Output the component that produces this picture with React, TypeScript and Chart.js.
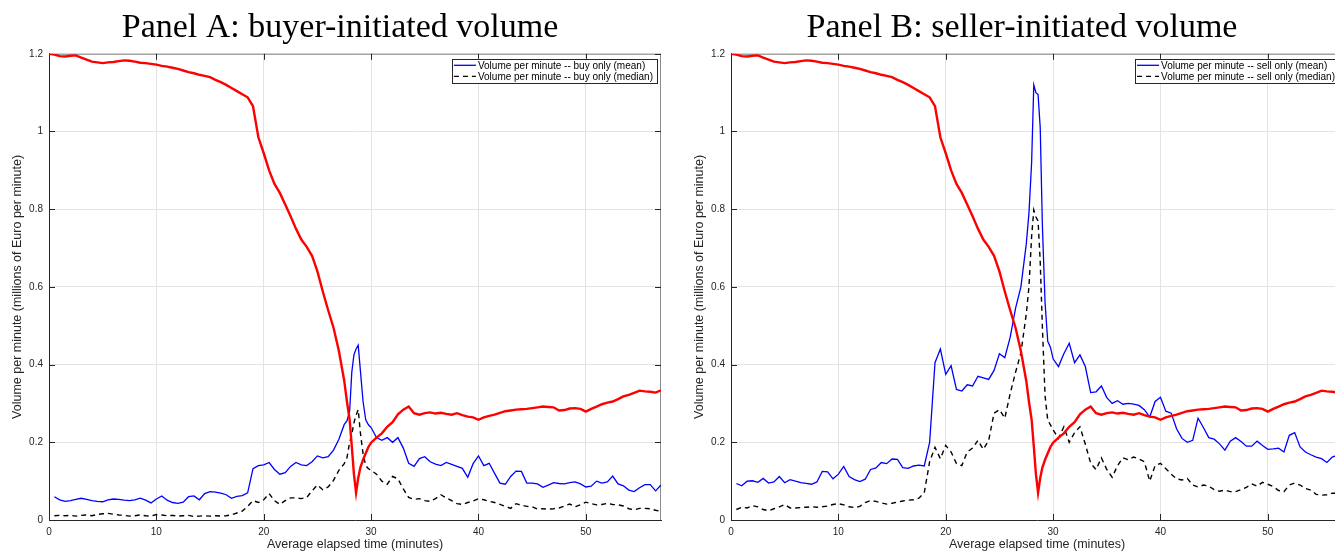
import React, { useEffect, useRef } from "react";
import Chart from "chart.js/auto";

// sample times (minutes)
const times = [
  0.5, 1, 1.5, 2, 2.5, 3, 3.5, 4, 4.5, 5,
  5.5, 6, 6.5, 7, 7.5, 8, 8.5, 9, 9.5, 10,
  10.5, 11, 11.5, 12, 12.5, 13, 13.5, 14, 14.5, 15,
  15.5, 16, 16.5, 17, 17.5, 18, 18.5, 19, 19.5, 20,
  20.5, 21, 21.5, 22, 22.5, 23, 23.5, 24, 24.5, 25,
  25.5, 26, 26.5, 27, 27.5, 27.75, 28, 28.2, 28.4, 28.6,
  28.8, 29, 29.25, 29.5, 29.75, 30, 30.5, 31, 31.5, 32,
  32.5, 33, 33.5, 34, 34.5, 35, 35.5, 36, 36.5, 37,
  37.5, 38, 38.5, 39, 39.5, 40, 40.5, 41, 41.5, 42,
  42.5, 43, 43.5, 44, 44.5, 45, 45.5, 46, 46.5, 47,
  47.5, 48, 48.5, 49, 49.5, 50, 50.5, 51, 51.5, 52,
  52.5, 53, 53.5, 54, 54.5, 55, 55.5, 56, 56.5, 57,
];
const priceTimes = [0, ...times];

const price = [
  1.2,
  1.198, 1.194, 1.193, 1.195, 1.196, 1.19, 1.185, 1.18, 1.178, 1.176,
  1.178, 1.179, 1.181, 1.183, 1.182, 1.18, 1.177, 1.176, 1.174, 1.172,
  1.169, 1.167, 1.164, 1.161, 1.157, 1.153, 1.15, 1.146, 1.143, 1.14,
  1.133, 1.127, 1.12, 1.112, 1.104, 1.096, 1.088, 1.065, 0.985, 0.944,
  0.9, 0.865, 0.842, 0.812, 0.782, 0.75, 0.722, 0.703, 0.68, 0.64,
  0.588, 0.54, 0.495, 0.435, 0.358, 0.305, 0.258, 0.19, 0.118, 0.07,
  0.108, 0.135, 0.155, 0.172, 0.188, 0.199, 0.212, 0.223, 0.24, 0.252,
  0.272, 0.284, 0.292, 0.275, 0.271, 0.275, 0.277, 0.274, 0.276, 0.273,
  0.271, 0.275, 0.27, 0.266, 0.264, 0.258, 0.264, 0.268, 0.271, 0.276,
  0.28, 0.282, 0.284, 0.285, 0.286, 0.288, 0.29, 0.292, 0.291, 0.29,
  0.282, 0.283, 0.287, 0.288, 0.286, 0.279, 0.286, 0.292, 0.298, 0.302,
  0.305, 0.311, 0.318, 0.322, 0.327, 0.333, 0.331, 0.33, 0.328, 0.334,
];

const buyMean = [
  0.06, 0.052, 0.048, 0.05, 0.053, 0.056, 0.053, 0.05, 0.048, 0.047,
  0.052, 0.054, 0.053, 0.051, 0.05, 0.052, 0.056, 0.051, 0.044, 0.054,
  0.062, 0.051, 0.045, 0.043, 0.046, 0.06, 0.062, 0.052, 0.068, 0.073,
  0.072, 0.069, 0.065, 0.056, 0.061, 0.063, 0.07, 0.132, 0.14, 0.142,
  0.148, 0.13, 0.118, 0.122, 0.138, 0.148, 0.142, 0.14, 0.15, 0.165,
  0.16, 0.163, 0.18, 0.208, 0.246, 0.255, 0.28, 0.38, 0.425, 0.44,
  0.45, 0.385, 0.305, 0.258, 0.245, 0.238, 0.212, 0.205, 0.212, 0.2,
  0.212, 0.185, 0.146, 0.138, 0.158, 0.163, 0.15, 0.144, 0.14, 0.148,
  0.143, 0.138, 0.133, 0.11, 0.145, 0.165, 0.14, 0.146, 0.12, 0.095,
  0.092, 0.112, 0.126, 0.125, 0.095, 0.095, 0.093, 0.084, 0.09, 0.096,
  0.094, 0.093, 0.096, 0.098, 0.093, 0.085, 0.087, 0.1, 0.095, 0.098,
  0.113, 0.093, 0.088, 0.077, 0.073, 0.083, 0.091, 0.091, 0.075, 0.09,
];

const buyMedian = [
  0.011, 0.012, 0.011, 0.012, 0.01, 0.012, 0.013, 0.011, 0.014, 0.016,
  0.017, 0.015, 0.013, 0.012, 0.01, 0.011, 0.013, 0.011, 0.01, 0.014,
  0.013, 0.011, 0.012, 0.01, 0.011, 0.012, 0.009, 0.01, 0.011, 0.01,
  0.011, 0.01, 0.011, 0.013, 0.018, 0.023, 0.035, 0.05, 0.045, 0.052,
  0.068, 0.05, 0.04, 0.05, 0.057, 0.057, 0.055, 0.058, 0.075, 0.09,
  0.078, 0.085, 0.102, 0.128, 0.145, 0.16, 0.2, 0.22, 0.25, 0.27,
  0.284, 0.225, 0.17, 0.14, 0.132, 0.128, 0.118, 0.1, 0.092, 0.112,
  0.106, 0.08, 0.058, 0.053, 0.055, 0.05, 0.048, 0.055, 0.065, 0.057,
  0.05, 0.042, 0.04, 0.045, 0.049, 0.055, 0.052, 0.048, 0.045, 0.04,
  0.035, 0.03, 0.042, 0.038, 0.035, 0.034, 0.028, 0.029, 0.028, 0.029,
  0.031, 0.036, 0.041, 0.034, 0.039, 0.046, 0.042, 0.039, 0.04, 0.043,
  0.04, 0.039, 0.036, 0.029, 0.026, 0.03, 0.03, 0.029, 0.025, 0.022,
];

const sellMean = [
  0.094, 0.088, 0.1, 0.101, 0.097, 0.107, 0.095, 0.098, 0.112, 0.096,
  0.104, 0.1, 0.096, 0.094, 0.092, 0.098, 0.125, 0.124, 0.106, 0.118,
  0.138, 0.112, 0.104, 0.099, 0.105, 0.13, 0.134, 0.148, 0.145, 0.157,
  0.156, 0.135, 0.133, 0.139, 0.141, 0.139, 0.2, 0.405, 0.44, 0.375,
  0.397, 0.336, 0.332, 0.348, 0.345, 0.37, 0.366, 0.362, 0.385, 0.428,
  0.418, 0.47, 0.545, 0.6, 0.71, 0.79, 0.92, 1.12, 1.1, 1.095,
  1.01, 0.76, 0.56, 0.46, 0.445, 0.415, 0.395, 0.428, 0.455, 0.405,
  0.425, 0.395, 0.328, 0.33, 0.345, 0.315, 0.3, 0.307, 0.298, 0.3,
  0.298, 0.295, 0.284, 0.265, 0.305, 0.316, 0.28, 0.275, 0.235, 0.21,
  0.2, 0.205, 0.262, 0.238, 0.212, 0.208, 0.196, 0.18, 0.203, 0.212,
  0.202, 0.19, 0.19, 0.203, 0.192, 0.182, 0.183, 0.185, 0.175, 0.218,
  0.225, 0.188, 0.175, 0.168, 0.162, 0.158, 0.148, 0.162, 0.167, 0.165,
];

const sellMedian = [
  0.027, 0.033, 0.031, 0.037, 0.034, 0.027, 0.024, 0.029, 0.034, 0.04,
  0.031, 0.031, 0.032, 0.033, 0.034, 0.033, 0.034, 0.036, 0.04, 0.042,
  0.039, 0.034, 0.032, 0.035, 0.045, 0.05, 0.048, 0.044, 0.041, 0.043,
  0.046, 0.049, 0.051, 0.052, 0.056, 0.07, 0.15, 0.187, 0.158, 0.192,
  0.175, 0.145, 0.14, 0.175, 0.185, 0.205, 0.182, 0.205, 0.275, 0.284,
  0.262, 0.325, 0.38, 0.43, 0.53, 0.6, 0.73, 0.798, 0.78, 0.77,
  0.665, 0.498, 0.32, 0.257, 0.245, 0.232, 0.21, 0.24, 0.2, 0.225,
  0.24, 0.195, 0.146, 0.13, 0.16, 0.13, 0.11, 0.14, 0.16, 0.155,
  0.162, 0.157, 0.15, 0.1, 0.14, 0.146, 0.132, 0.118, 0.106, 0.103,
  0.107, 0.09, 0.085, 0.09, 0.087, 0.078, 0.074, 0.077, 0.073, 0.073,
  0.078, 0.084, 0.093, 0.087, 0.097, 0.092, 0.086, 0.076, 0.073, 0.09,
  0.095, 0.09, 0.081, 0.077, 0.066, 0.064, 0.065, 0.069, 0.069, 0.07,
];

const xTicks = [0, 10, 20, 30, 40, 50];
const yTicks = [0, 0.2, 0.4, 0.6, 0.8, 1, 1.2];
const X_MAX = 57;
const Y_MAX = 1.2;

const SANS = "'Liberation Sans', Arial, Helvetica, sans-serif";
const SERIF = "'Liberation Serif', 'Times New Roman', serif";

const CANVAS_W = 680;
const CANVAS_H = 552;

const frameTicks = {
  id: "frameTicks",
  beforeDatasetsDraw(chart: any) {
    const { ctx, chartArea: a, scales } = chart;
    ctx.save();
    ctx.lineWidth = 1;
    ctx.strokeStyle = "#8c8c8c";
    ctx.beginPath();
    ctx.moveTo(a.left, a.top + 0.5);
    ctx.lineTo(a.right, a.top + 0.5);
    ctx.moveTo(a.right - 0.5, a.top);
    ctx.lineTo(a.right - 0.5, a.bottom);
    ctx.stroke();
    ctx.strokeStyle = "#262626";
    ctx.beginPath();
    const L = 6;
    xTicks.forEach((v) => {
      const px = Math.round(scales.x.getPixelForValue(v)) + 0.5;
      ctx.moveTo(px, a.bottom);
      ctx.lineTo(px, a.bottom - L);
      ctx.moveTo(px, a.top);
      ctx.lineTo(px, a.top + L);
    });
    yTicks.forEach((v) => {
      const py = Math.round(scales.y.getPixelForValue(v)) + 0.5;
      ctx.moveTo(a.left, py);
      ctx.lineTo(a.left + L, py);
      ctx.moveTo(a.right, py);
      ctx.lineTo(a.right - L, py);
    });
    ctx.stroke();
    ctx.restore();
  },
};

const boxLegend = {
  id: "boxLegend",
  afterDatasetsDraw(chart: any) {
    const { ctx, chartArea: a } = chart;
    const items = chart.data.datasets.filter((d: any) => d.inLegend);
    ctx.save();
    ctx.font = `10px ${SANS}`;
    const tw = Math.max(...items.map((d: any) => ctx.measureText(d.label).width));
    const sample = 22;
    const w = 2 + sample + 2 + tw + 4;
    const h = 24;
    const x0 = a.right - 4 - w;
    const y0 = a.top + 5;
    ctx.fillStyle = "#ffffff";
    ctx.fillRect(x0, y0, w, h);
    ctx.strokeStyle = "#262626";
    ctx.lineWidth = 1;
    ctx.strokeRect(Math.round(x0) + 0.5, Math.round(y0) + 0.5, Math.round(w), h);
    items.forEach((d: any, i: number) => {
      const cy = y0 + 6.5 + i * 11;
      ctx.strokeStyle = d.borderColor;
      ctx.lineWidth = 1.3;
      ctx.setLineDash(d.borderDash || []);
      ctx.beginPath();
      ctx.moveTo(x0 + 2, cy);
      ctx.lineTo(x0 + 2 + sample, cy);
      ctx.stroke();
      ctx.setLineDash([]);
      ctx.fillStyle = "#000000";
      ctx.textBaseline = "middle";
      ctx.textAlign = "left";
      ctx.fillText(d.label, x0 + 2 + sample + 2, cy + 0.5);
    });
    ctx.restore();
  },
};

type PanelProps = {
  left: number;
  title: string;
  mean: number[];
  median: number[];
  meanLabel: string;
  medianLabel: string;
};

function Panel({ left, title, mean, median, meanLabel, medianLabel }: PanelProps) {
  const ref = useRef<HTMLCanvasElement>(null);
  useEffect(() => {
    if (!ref.current) return;
    const pts = (xs: number[], ys: number[]) => ys.map((y, i) => ({ x: xs[i], y }));
    const chart = new Chart(ref.current, {
      type: "line",
      data: {
        datasets: [
          {
            label: "Price",
            data: pts(priceTimes, price),
            borderColor: "#ff0000",
            borderWidth: 2.4,
            pointRadius: 0,
            order: 0,
            inLegend: false,
          } as any,
          {
            label: meanLabel,
            data: pts(times, mean),
            borderColor: "#0000ff",
            borderWidth: 1.3,
            pointRadius: 0,
            order: 1,
            inLegend: true,
          } as any,
          {
            label: medianLabel,
            data: pts(times, median),
            borderColor: "#000000",
            borderWidth: 1.4,
            borderDash: [5, 4],
            pointRadius: 0,
            order: 2,
            inLegend: true,
          } as any,
        ],
      },
      options: {
        responsive: false,
        animation: false,
        events: [],
        devicePixelRatio: 1,
        layout: { padding: { left: 0, right: 0, top: 0, bottom: 0 } },
        elements: { line: { tension: 0 } },
        plugins: {
          legend: { display: false },
          tooltip: { enabled: false },
          title: {
            display: true,
            text: title,
            color: "#000000",
            font: { family: SERIF, size: 34, weight: "normal" },
            padding: { top: 8, bottom: 5 },
          },
        },
        scales: {
          x: {
            type: "linear",
            min: 0,
            max: X_MAX,
            afterFit: (s: any) => {
              s.height = 32;
            },
            afterBuildTicks: (s: any) => {
              s.ticks = xTicks.map((v) => ({ value: v }));
            },
            grid: { color: "#e3e3e3", drawTicks: false, lineWidth: 1 },
            border: { display: true, color: "#262626", width: 1 },
            ticks: {
              color: "#262626",
              padding: 6,
              maxRotation: 0,
              font: { family: SANS, size: 10 },
              callback: (v: any) => String(v),
            },
            title: {
              display: true,
              text: "Average elapsed time (minutes)",
              color: "#262626",
              font: { family: SANS, size: 12.5 },
              padding: { top: 0, bottom: 0 },
            },
          },
          y: {
            type: "linear",
            position: "left",
            min: 0,
            max: Y_MAX,
            afterFit: (s: any) => {
              s.width = 49;
            },
            afterBuildTicks: (s: any) => {
              s.ticks = yTicks.map((v) => ({ value: v }));
            },
            grid: { color: "#e3e3e3", drawTicks: false, lineWidth: 1 },
            border: { display: true, color: "#262626", width: 1 },
            ticks: {
              color: "#262626",
              padding: 6,
              font: { family: SANS, size: 10 },
              callback: (v: any) => String(Math.round(Number(v) * 10) / 10),
            },
            title: {
              display: true,
              text: "Volume per minute (millions of Euro per minute)",
              color: "#262626",
              font: { family: SANS, size: 12.5 },
              padding: { top: 10, bottom: 0 },
            },
          },
          // empty right-hand margin so the panel title centres like the original figure
          margin: {
            type: "linear",
            position: "right",
            display: true,
            min: 0,
            max: 1,
            afterFit: (s: any) => {
              s.width = 19;
            },
            grid: { display: false, drawTicks: false },
            border: { display: false },
            ticks: { display: false },
            title: { display: false },
          },
        },
      },
      plugins: [frameTicks, boxLegend],
    } as any);
    return () => chart.destroy();
  }, []);
  return (
    <canvas
      ref={ref}
      width={CANVAS_W}
      height={CANVAS_H}
      style={{ position: "absolute", left, top: 0, width: CANVAS_W, height: CANVAS_H }}
    />
  );
}

export default function App() {
  return (
    <div
      style={{
        position: "fixed",
        left: 0,
        top: 0,
        width: 1335,
        height: 552,
        overflow: "hidden",
        background: "#ffffff",
      }}
    >
      <Panel
        left={0}
        title="Panel A: buyer-initiated volume"
        mean={buyMean}
        median={buyMedian}
        meanLabel="Volume per minute -- buy only (mean)"
        medianLabel="Volume per minute -- buy only (median)"
      />
      <Panel
        left={682}
        title="Panel B: seller-initiated volume"
        mean={sellMean}
        median={sellMedian}
        meanLabel="Volume per minute -- sell only (mean)"
        medianLabel="Volume per minute -- sell only (median)"
      />
    </div>
  );
}
